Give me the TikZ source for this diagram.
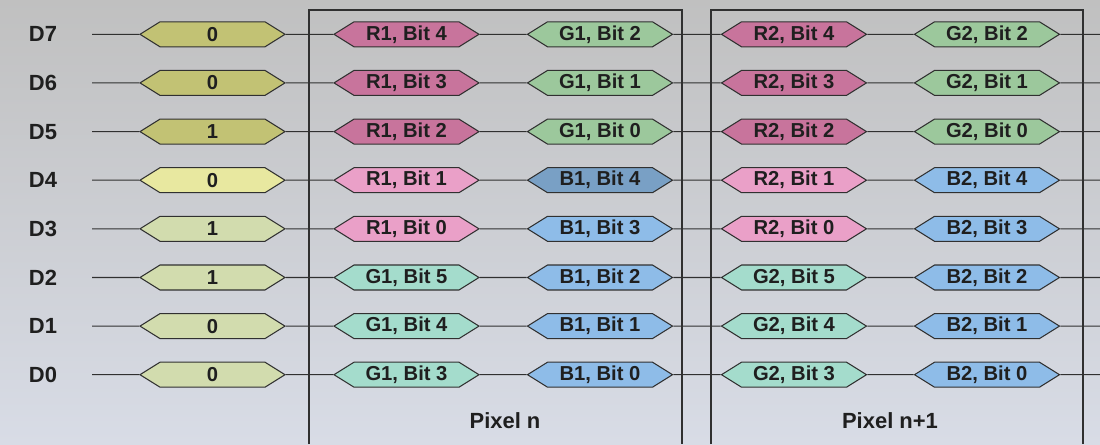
\documentclass[tikz,border=0pt]{standalone}
\usepackage{fontspec}
\setmainfont{Liberation Sans}
\usetikzlibrary{shapes.symbols}

\definecolor{bgtop}{HTML}{C0C0C0}
\definecolor{bgbot}{HTML}{D8DCE6}
\definecolor{wire}{HTML}{303030}
\definecolor{valc}{HTML}{C2C274}
\definecolor{valy}{HTML}{E8E8A0}
\definecolor{valg}{HTML}{D2DCAE}
\definecolor{redc}{HTML}{C8749C}
\definecolor{redl}{HTML}{EAA0C8}
\definecolor{grnc}{HTML}{9CC89C}
\definecolor{grnl}{HTML}{A4DCCC}
\definecolor{bluc}{HTML}{8EBCE8}

\tikzset{
  hexa/.style={signal, signal to=east and west, signal pointer angle=64,
    draw=wire, line width=0.6pt, inner sep=0pt,
    minimum width=2.9cm, minimum height=0.5cm,
    font=\fontsize{11.5}{13}\selectfont\bfseries, text=black!88},
  bitval/.style={hexa, fill=valc},
  rbit/.style={hexa, fill=redc},
  gbit/.style={hexa, fill=grnc},
  bbit/.style={hexa, fill=bluc},
  dlabel/.style={font=\fontsize{12.5}{14}\selectfont\bfseries, text=black!88},
  wire/.style={draw=wire, line width=0.6pt}
}

\begin{document}
\begin{tikzpicture}[x=0.02cm, y=0.02cm]
    \shade[top color=bgtop, bottom color=bgbot] (0,0) rectangle (1100,444);
    \useasboundingbox (0,0) rectangle (1100,444);

    % pixel frames
    \draw[wire] (309,0) -- (309,434) -- (682,434) -- (682,0);
    \draw[wire] (711,0) -- (711,434) -- (1083,434) -- (1083,0);
    \node[dlabel] (pn) at (505,23) {Pixel n};
    \node[dlabel] (pm) at (890,23) {Pixel n+1};

    % D7
    \node[dlabel] (d7) at (43,409.7) {D7};
    \coordinate (s7) at (92,409.7);
    \coordinate (t7) at (1100,409.7);
    \node[bitval] (v7) at (212.5,409.7) {0};
    \node[rbit] (n7a) at (406.5,409.7) {R1, Bit 4};
    \node[gbit] (n7b) at (600,409.7) {G1, Bit 2};
    \node[rbit] (m7a) at (794,409.7) {R2, Bit 4};
    \node[gbit] (m7b) at (987,409.7) {G2, Bit 2};
    \draw[wire] (s7) -- (v7) -- (n7a) -- (n7b) -- (m7a) -- (m7b) -- (t7);

    % D6
    \node[dlabel] (d6) at (43,361.1) {D6};
    \coordinate (s6) at (92,361.1);
    \coordinate (t6) at (1100,361.1);
    \node[bitval] (v6) at (212.5,361.1) {0};
    \node[rbit] (n6a) at (406.5,361.1) {R1, Bit 3};
    \node[gbit] (n6b) at (600,361.1) {G1, Bit 1};
    \node[rbit] (m6a) at (794,361.1) {R2, Bit 3};
    \node[gbit] (m6b) at (987,361.1) {G2, Bit 1};
    \draw[wire] (s6) -- (v6) -- (n6a) -- (n6b) -- (m6a) -- (m6b) -- (t6);

    % D5
    \node[dlabel] (d5) at (43,312.4) {D5};
    \coordinate (s5) at (92,312.4);
    \coordinate (t5) at (1100,312.4);
    \node[bitval] (v5) at (212.5,312.4) {1};
    \node[rbit] (n5a) at (406.5,312.4) {R1, Bit 2};
    \node[gbit] (n5b) at (600,312.4) {G1, Bit 0};
    \node[rbit] (m5a) at (794,312.4) {R2, Bit 2};
    \node[gbit] (m5b) at (987,312.4) {G2, Bit 0};
    \draw[wire] (s5) -- (v5) -- (n5a) -- (n5b) -- (m5a) -- (m5b) -- (t5);

    % D4
    \node[dlabel] (d4) at (43,263.8) {D4};
    \coordinate (s4) at (92,263.8);
    \coordinate (t4) at (1100,263.8);
    \node[bitval, fill=valy] (v4) at (212.5,263.8) {0};
    \node[rbit, fill=redl] (n4a) at (406.5,263.8) {R1, Bit 1};
    \node[bbit, fill=bluc!85!black] (n4b) at (600,263.8) {B1, Bit 4};
    \node[rbit, fill=redl] (m4a) at (794,263.8) {R2, Bit 1};
    \node[bbit] (m4b) at (987,263.8) {B2, Bit 4};
    \draw[wire] (s4) -- (v4) -- (n4a) -- (n4b) -- (m4a) -- (m4b) -- (t4);

    % D3
    \node[dlabel] (d3) at (43,215.2) {D3};
    \coordinate (s3) at (92,215.2);
    \coordinate (t3) at (1100,215.2);
    \node[bitval, fill=valg] (v3) at (212.5,215.2) {1};
    \node[rbit, fill=redl] (n3a) at (406.5,215.2) {R1, Bit 0};
    \node[bbit] (n3b) at (600,215.2) {B1, Bit 3};
    \node[rbit, fill=redl] (m3a) at (794,215.2) {R2, Bit 0};
    \node[bbit] (m3b) at (987,215.2) {B2, Bit 3};
    \draw[wire] (s3) -- (v3) -- (n3a) -- (n3b) -- (m3a) -- (m3b) -- (t3);

    % D2
    \node[dlabel] (d2) at (43,166.5) {D2};
    \coordinate (s2) at (92,166.5);
    \coordinate (t2) at (1100,166.5);
    \node[bitval, fill=valg] (v2) at (212.5,166.5) {1};
    \node[gbit, fill=grnl] (n2a) at (406.5,166.5) {G1, Bit 5};
    \node[bbit] (n2b) at (600,166.5) {B1, Bit 2};
    \node[gbit, fill=grnl] (m2a) at (794,166.5) {G2, Bit 5};
    \node[bbit] (m2b) at (987,166.5) {B2, Bit 2};
    \draw[wire] (s2) -- (v2) -- (n2a) -- (n2b) -- (m2a) -- (m2b) -- (t2);

    % D1
    \node[dlabel] (d1) at (43,117.9) {D1};
    \coordinate (s1) at (92,117.9);
    \coordinate (t1) at (1100,117.9);
    \node[bitval, fill=valg] (v1) at (212.5,117.9) {0};
    \node[gbit, fill=grnl] (n1a) at (406.5,117.9) {G1, Bit 4};
    \node[bbit] (n1b) at (600,117.9) {B1, Bit 1};
    \node[gbit, fill=grnl] (m1a) at (794,117.9) {G2, Bit 4};
    \node[bbit] (m1b) at (987,117.9) {B2, Bit 1};
    \draw[wire] (s1) -- (v1) -- (n1a) -- (n1b) -- (m1a) -- (m1b) -- (t1);

    % D0
    \node[dlabel] (d0) at (43,69.3) {D0};
    \coordinate (s0) at (92,69.3);
    \coordinate (t0) at (1100,69.3);
    \node[bitval, fill=valg] (v0) at (212.5,69.3) {0};
    \node[gbit, fill=grnl] (n0a) at (406.5,69.3) {G1, Bit 3};
    \node[bbit] (n0b) at (600,69.3) {B1, Bit 0};
    \node[gbit, fill=grnl] (m0a) at (794,69.3) {G2, Bit 3};
    \node[bbit] (m0b) at (987,69.3) {B2, Bit 0};
    \draw[wire] (s0) -- (v0) -- (n0a) -- (n0b) -- (m0a) -- (m0b) -- (t0);
\end{tikzpicture}
\end{document}
